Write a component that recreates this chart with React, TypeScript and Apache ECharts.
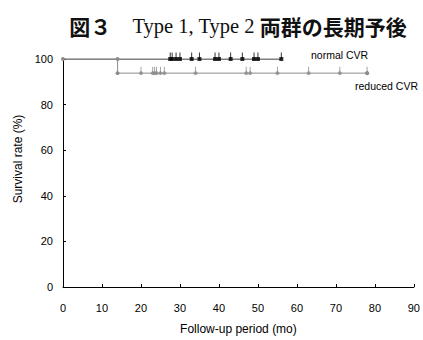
import React, { useEffect, useRef } from "react";
import * as echarts from "echarts";

const xTicks = [0, 10, 20, 30, 40, 50, 60, 70, 80, 90];
const yTicks = [0, 20, 40, 60, 80, 100];

// normal CVR: no events, censored times (months)
const normalCurve: [number, number][] = [[0, 100], [56, 100]];
const normalCensor = [27.5, 28, 29, 30, 33, 35, 39, 40, 43, 46, 49, 50, 56];

// reduced CVR: one event at 14 months
const reducedCurve: [number, number][] = [[0, 100], [14, 100], [14, 93.8], [78, 93.8]];
const reducedCensor = [20, 23, 23.5, 24, 25, 26, 34, 47, 48, 55, 63, 71, 78];
const reducedLevel = 93.8;

const GRAY = "#8c8c8c";
const SANS = "Liberation Sans, Arial, sans-serif";

export default function App() {
  const ref = useRef<HTMLDivElement>(null);
  useEffect(() => {
    const chart = echarts.init(ref.current!, null, { renderer: "svg" });
    chart.setOption({
      animation: false,
      backgroundColor: "#fff",
      title: {
        text: "{a|図３}{a|　}{b|Type 1, Type 2 }{a|両群の長期予後}",
        left: 233,
        textAlign: "center",
        top: 10,
        textStyle: {
          fontWeight: "normal",
          rich: {
            a: { fontFamily: "Noto Sans CJK JP", fontSize: 21, fontWeight: "bold", color: "#111" },
            b: { fontFamily: "Liberation Serif, Times New Roman, serif", fontSize: 20.5, fontWeight: "normal", color: "#111" },
          },
        },
      },
      grid: { left: 63, right: 6, top: 59, bottom: 51, containLabel: false },
      xAxis: {
        type: "value",
        min: 0,
        max: 90,
        interval: 10,
        name: "Follow-up period (mo)",
        nameLocation: "middle",
        nameGap: 36,
        nameTextStyle: { fontFamily: SANS, fontSize: 12, color: "#000" },
        axisLine: { show: true, onZero: false, lineStyle: { color: "#000", width: 1 } },
        axisTick: { show: true, inside: true, length: 3, lineStyle: { color: "#000" } },
        axisLabel: {
          fontFamily: SANS,
          fontSize: 11,
          color: "#000",
          margin: 15,
          formatter: (v: number) => (xTicks.includes(v) ? String(v) : ""),
        },
        splitLine: { show: false },
      },
      yAxis: {
        type: "value",
        min: 0,
        max: 100,
        interval: 20,
        name: "Survival rate (%)",
        nameLocation: "middle",
        nameGap: 31,
        nameTextStyle: { fontFamily: SANS, fontSize: 12, color: "#000", padding: [0, 0, 0, 28] },
        axisLine: { show: true, lineStyle: { color: "#000", width: 1 } },
        axisTick: { show: true, inside: true, length: 3, lineStyle: { color: "#000" } },
        axisLabel: {
          fontFamily: SANS,
          fontSize: 11,
          color: "#000",
          margin: 10,
          formatter: (v: number) => (yTicks.includes(v) ? String(v) : ""),
        },
        splitLine: { show: false },
      },
      series: [
        {
          type: "line",
          data: normalCurve,
          lineStyle: { color: "#000", width: 1 },
          symbol: "none",
          z: 2,
        },
        {
          type: "scatter",
          data: normalCensor.map((t) => [t, 100]),
          symbol: "rect",
          symbolSize: [1, 7],
          symbolOffset: [0, -3],
          itemStyle: { color: "#000" },
          z: 3,
        },
        {
          type: "scatter",
          data: normalCensor.map((t) => [t, 100]),
          symbol: "rect",
          symbolSize: [4, 4],
          itemStyle: { color: "#000" },
          z: 4,
        },
        {
          type: "line",
          data: reducedCurve,
          lineStyle: { color: GRAY, width: 1 },
          symbol: "circle",
          symbolSize: 4,
          showSymbol: true,
          itemStyle: { color: GRAY, borderWidth: 0 },
          z: 5,
        },
        {
          type: "scatter",
          data: reducedCensor.map((t) => [t, reducedLevel]),
          symbol: "rect",
          symbolSize: [1, 7],
          symbolOffset: [0, -3],
          itemStyle: { color: GRAY },
          z: 5,
        },
        {
          type: "scatter",
          data: reducedCensor.map((t) => [t, reducedLevel]),
          symbol: "circle",
          symbolSize: 4,
          itemStyle: { color: GRAY },
          z: 6,
        },
      ],
      graphic: [
        {
          type: "text",
          left: 311,
          top: 49,
          style: { text: "normal CVR", fontFamily: SANS, fontSize: 10.5, fill: "#000" },
        },
        {
          type: "text",
          left: 355,
          top: 80,
          style: { text: "reduced CVR", fontFamily: SANS, fontSize: 10.5, fill: "#000" },
        },
      ],
    });
    return () => chart.dispose();
  }, []);
  return <div ref={ref} style={{ width: 423, height: 340, position: "absolute", left: 0, top: 0 }} />;
}
